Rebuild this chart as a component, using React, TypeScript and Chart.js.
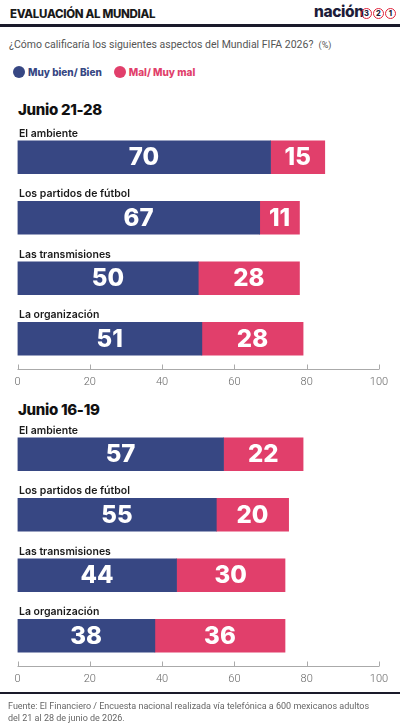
import React, { useEffect, useRef } from "react";
import { Chart, registerables } from "chart.js";

Chart.register(...registerables);

const categories = ["El ambiente", "Los partidos de fútbol", "Las transmisiones", "La organización"];
const goodJun21 = [70, 67, 50, 51];
const badJun21 = [15, 11, 28, 28];
const goodJun16 = [57, 55, 44, 38];
const badJun16 = [22, 20, 30, 36];
const tickValues = [0, 20, 40, 60, 80, 100];
const seriesNames = ["Muy bien/ Bien", "Mal/ Muy mal"];

const BLUE = "#374783";
const PINK = "#e13f6b";
const FONT = "Inter, 'Noto Sans', sans-serif";
const BODY = "Roboto, 'Noto Sans', sans-serif";

const barPlugin = {
  id: "customDraw",
  afterDatasetsDraw(chart: any) {
    const ctx = chart.ctx;
    const area = chart.chartArea;
    const xs = chart.scales.x;
    const ys = chart.scales.y;
    ctx.save();
    chart.data.datasets.forEach((ds: any, di: number) => {
      const meta = chart.getDatasetMeta(di);
      meta.data.forEach((el: any, i: number) => {
        const cx = (el.x + el.base) / 2;
        ctx.fillStyle = "#ffffff";
        ctx.font = `800 24px ${FONT}`;
        ctx.textAlign = "center";
        ctx.textBaseline = "middle";
        ctx.fillText(String(ds.data[i]), cx, el.y + 1);
      });
    });
    chart.data.labels.forEach((lab: string, i: number) => {
      const y = ys.getPixelForValue(i);
      ctx.fillStyle = "#1a1a1a";
      ctx.font = `600 10.5px ${FONT}`;
      ctx.textAlign = "left";
      ctx.textBaseline = "middle";
      ctx.fillText(lab, area.left + 1.5, y - 23.5);
    });
    const yb = Math.round(area.bottom) + 0.5;
    ctx.strokeStyle = "#aaaaaa";
    ctx.lineWidth = 1;
    ctx.beginPath();
    ctx.moveTo(xs.getPixelForValue(tickValues[0]), yb);
    ctx.lineTo(xs.getPixelForValue(tickValues[tickValues.length - 1]), yb);
    tickValues.forEach((t) => {
      const x = Math.round(xs.getPixelForValue(t)) + 0.5;
      ctx.moveTo(x, yb);
      ctx.lineTo(x, yb - 5);
    });
    ctx.stroke();
    ctx.restore();
  },
};

function BarChart({ good, bad }: { good: number[]; bad: number[] }) {
  const ref = useRef<HTMLCanvasElement>(null);
  useEffect(() => {
    const chart = new Chart(ref.current!, {
      type: "bar",
      data: {
        labels: categories,
        datasets: [
          { label: seriesNames[0], data: good, backgroundColor: BLUE, barThickness: 33 },
          { label: seriesNames[1], data: bad, backgroundColor: PINK, barThickness: 33 },
        ],
      },
      options: {
        indexAxis: "y",
        animation: false,
        responsive: false,
        maintainAspectRatio: false,
        layout: { padding: { left: 17.5, right: 21, top: 0, bottom: 0 } },
        plugins: { legend: { display: false }, tooltip: { enabled: false } },
        scales: {
          x: {
            stacked: true,
            min: 0,
            max: 100,
            afterBuildTicks: (scale: any) => {
              scale.ticks = tickValues.map((v) => ({ value: v }));
            },
            afterFit: (scale: any) => {
              scale.height = 30;
            },
            grid: { display: false, drawTicks: false },
            border: { display: false },
            ticks: {
              padding: 7,
              color: "#666666",
              font: { family: BODY, size: 11, weight: 300 },
              maxRotation: 0,
            },
          },
          y: {
            stacked: true,
            display: false,
          },
        },
      },
      plugins: [barPlugin],
    } as any);
    return () => chart.destroy();
  }, [good, bad]);
  return <canvas ref={ref} width={400} height={272} style={{ width: 400, height: 272, display: "block" }} />;
}

const abs = (top: number, left: number, extra: any = {}) => ({ position: "absolute" as const, top, left, ...extra });

function Circ({ n, left }: { n: string; left: number }) {
  return (
    <div
      style={abs(8, left, {
        width: 9,
        height: 9,
        borderRadius: "50%",
        border: "1.5px solid #e0223a",
        color: "#1d1d3a",
        fontSize: 7.5,
        fontWeight: 800,
        lineHeight: "9px",
        textAlign: "center",
        fontFamily: FONT,
      })}
    >
      {n}
    </div>
  );
}

export default function App() {
  return (
    <div style={{ position: "absolute", top: 0, left: 0, width: 400, height: 725, background: "#fff", fontFamily: FONT, overflow: "hidden" }}>
      <div style={abs(6, 10, { fontSize: 11.5, fontWeight: 800, color: "#1a1a1a", letterSpacing: -0.3, lineHeight: "16px" })}>
        EVALUACIÓN AL MUNDIAL
      </div>
      <div style={abs(3, 314, { fontSize: 15.5, fontWeight: 800, color: "#1d1d3a", lineHeight: "18px", whiteSpace: "nowrap", letterSpacing: -0.4 })}>
        nación
      </div>
      <Circ n="3" left={361} />
      <Circ n="2" left={373} />
      <Circ n="1" left={385} />
      <div style={abs(24, 0, { width: 400, height: 3, background: "#1a1a2a" })} />
      <div style={abs(37, 9, { fontSize: 10.5, color: "#555", lineHeight: "16px", whiteSpace: "nowrap", fontFamily: BODY })}>
        ¿Cómo calificaría los siguientes aspectos del Mundial FIFA 2026?&nbsp; <span style={{ fontSize: 9 }}>(%)</span>
      </div>
      <div style={abs(64, 13, { display: "flex", alignItems: "center", fontSize: 10, fontWeight: 800, lineHeight: "16px", whiteSpace: "nowrap" })}>
        <span style={{ width: 12, height: 12, borderRadius: "50%", background: BLUE, display: "inline-block", marginRight: 3 }} />
        <span style={{ color: BLUE }}>{seriesNames[0]}</span>
        <span style={{ width: 12, height: 12, borderRadius: "50%", background: PINK, display: "inline-block", marginLeft: 12, marginRight: 3 }} />
        <span style={{ color: PINK }}>{seriesNames[1]}</span>
      </div>
      <div style={abs(100, 18, { fontSize: 15, fontWeight: 800, color: "#111", lineHeight: "20px", letterSpacing: -0.3 })}>Junio 21-28</div>
      <div style={abs(127, 0)}>
        <BarChart good={goodJun21} bad={badJun21} />
      </div>
      <div style={abs(400, 18, { fontSize: 15, fontWeight: 800, color: "#111", lineHeight: "20px", letterSpacing: -0.3 })}>Junio 16-19</div>
      <div style={abs(424, 0)}>
        <BarChart good={goodJun16} bad={badJun16} />
      </div>
      <div style={abs(692, 0, { width: 400, height: 2, background: "#1a1a2a" })} />
      <div style={abs(700, 8, { fontSize: 9, color: "#666", lineHeight: "12px", whiteSpace: "nowrap", fontFamily: BODY })}>
        Fuente: El Financiero / Encuesta nacional realizada vía telefónica a 600 mexicanos adultos
        <br />
        del 21 al 28 de junio de 2026.
      </div>
    </div>
  );
}
